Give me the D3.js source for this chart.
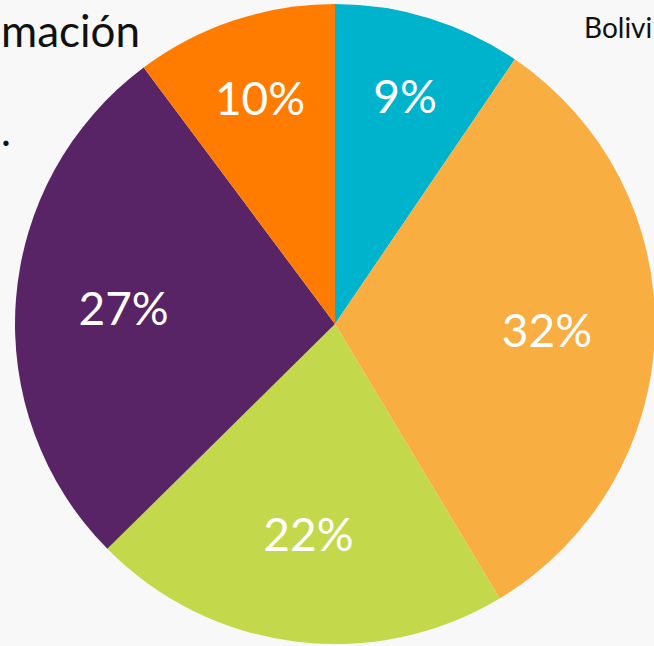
<!DOCTYPE html>
<html>
<head>
<meta charset="utf-8">
<script src="https://cdn.jsdelivr.net/npm/d3@7"></script>
<style>
  html, body { margin: 0; padding: 0; background: #f8f8f8; }
  svg { display: block; }
</style>
</head>
<body>
<svg id="chart" width="654" height="646"></svg>
<script>
// slices, clockwise from 12 o'clock
var categories = ["A", "B", "C", "D", "E"]
var shares = [9.5, 31.9, 21.2, 27.2, 10.2]   // slice sizes as drawn
var labels = ["9%", "32%", "22%", "27%", "10%"]
var colors = ["#00b3cd", "#f9ae42", "#c4d84b", "#582466", "#ff7c00"]

var w = 654, h = 646
var cx = 335, cy = 324, r = 320

var svg = d3.select("#chart")

svg.append("rect")
  .attr("width", w).attr("height", h)
  .attr("fill", "#f8f8f8")

// title fragments, as far as they show inside the frame
svg.append("text")
  .attr("x", 1).attr("y", 47)
  .attr("textLength", 139)
  .attr("lengthAdjust", "spacingAndGlyphs")
  .style("font-family", "Lato, sans-serif")
  .style("font-size", "44px")
  .attr("fill", "#111")
  .text("mación")

svg.append("text")
  .attr("x", 1).attr("y", 146)
  .style("font-family", "Lato, sans-serif")
  .style("font-size", "42px")
  .attr("fill", "#111")
  .text(".")

svg.append("text")
  .attr("x", 584).attr("y", 38)
  .style("font-family", "Lato, sans-serif")
  .style("font-size", "28px")
  .attr("fill", "#111")
  .text("Bolivi")

var pie = d3.pie().sort(null).value(function(d){ return d })
var arcs = pie(shares)

var arc = d3.arc().innerRadius(0).outerRadius(r)
// small slices carry their label further out
var labelRadius = function(d){ return d.data < 15 ? 238 : 212 }

var g = svg.append("g").attr("transform", "translate(" + cx + "," + cy + ")")

g.selectAll("path")
  .data(arcs)
  .enter()
  .append("path")
  .attr("d", arc)
  .attr("fill", function(d, i){ return colors[i] })

g.selectAll("text.pct")
  .data(arcs)
  .enter()
  .append("text")
  .attr("class", "pct")
  .attr("transform", function(d){
    var lr = labelRadius(d)
    return "translate(" + d3.arc().innerRadius(lr).outerRadius(lr).centroid(d) + ")"
  })
  .attr("text-anchor", "middle")
  .attr("dy", "0.36em")
  .style("font-family", "Lato, sans-serif")
  .style("font-size", "46px")
  .attr("fill", "#ffffff")
  .text(function(d, i){ return labels[i] })
</script>
</body>
</html>
